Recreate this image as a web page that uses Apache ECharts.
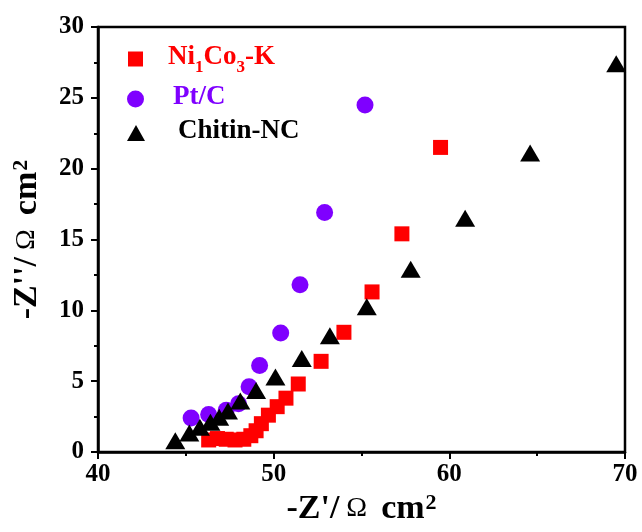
<!DOCTYPE html>
<html>
<head>
<meta charset="utf-8">
<script src="https://cdn.jsdelivr.net/npm/echarts@6/dist/echarts.min.js"></script>
<style>
html,body{margin:0;padding:0;background:#fff;}
#c{width:642px;height:532px;}
</style>
</head>
<body>
<div id="c"></div>
<script>
// Data
var niCoX = [46.3, 46.8, 47.3, 47.8, 48.3, 48.7, 49.0, 49.3, 49.7, 50.2, 50.7, 51.4, 52.7, 54.0, 55.6, 57.3, 59.5];
var niCoY = [0.85, 0.95, 0.9, 0.85, 0.9, 1.15, 1.5, 2.0, 2.6, 3.2, 3.8, 4.8, 6.4, 8.45, 11.3, 15.4, 21.5];
var ptcX = [45.3, 46.3, 47.3, 48.0, 48.6, 49.2, 50.4, 51.5, 52.9, 55.2];
var ptcY = [2.4, 2.65, 2.95, 3.4, 4.6, 6.1, 8.4, 11.8, 16.9, 24.5];
var chitinX = [44.4, 45.2, 45.8, 46.4, 46.9, 47.4, 48.1, 49.0, 50.1, 51.6, 53.2, 55.3, 57.8, 60.9, 64.6, 69.5];
var chitinY = [0.8, 1.35, 1.75, 2.1, 2.45, 2.9, 3.6, 4.35, 5.3, 6.6, 8.2, 10.25, 12.9, 16.5, 21.1, 27.4];
var seriesNames = ['Ni1Co3-K', 'Pt/C', 'Chitin-NC'];
var xTicks = [40, 50, 60, 70];
var yTicks = [0, 5, 10, 15, 20, 25, 30];

function pairs(xs, ys) { return xs.map(function (x, i) { return [x, ys[i]]; }); }

var FONT = "'Liberation Serif','Times New Roman',serif";
var chart = echarts.init(document.getElementById('c'), null, {renderer: 'canvas'});

var titleRich = {
  b: {fontFamily: FONT, fontWeight: 'bold', fontSize: 34, color: '#000', lineHeight: 38, verticalAlign: 'top'},
  o: {fontFamily: FONT, fontWeight: 'normal', fontSize: 28, color: '#000', lineHeight: 38, verticalAlign: 'top', padding: [3, 0, 0, 0]},
  s: {fontFamily: FONT, fontWeight: 'bold', fontSize: 22, color: '#000', lineHeight: 22, verticalAlign: 'top', padding: [0, 0, 0, 1]}
};

function legendCfg(name, icon, color, left, top, w, h, spacer, fmt) {
  return {
    show: true, orient: 'vertical', left: left, top: top,
    itemWidth: w, itemHeight: h, padding: 0,
    selectedMode: false,
    data: [{name: name, icon: icon, itemStyle: {color: color}}],
    formatter: fmt,
    textStyle: {
      color: color, fontFamily: FONT, fontWeight: 'bold', fontSize: 27,
      rich: {
        sp: {width: spacer},
        m: {color: color, fontFamily: FONT, fontWeight: 'bold', fontSize: 27, lineHeight: 30, verticalAlign: 'top'},
        sub: {color: color, fontFamily: FONT, fontWeight: 'bold', fontSize: 17, lineHeight: 17, verticalAlign: 'top', padding: [15, 0, 0, 0]}
      }
    }
  };
}

var option = {
  backgroundColor: '#fff',
  animation: false,
  grid: {left: 98, right: 17, top: 27, bottom: 80, show: true, borderColor: '#000', borderWidth: 2.5, backgroundColor: 'transparent'},
  legend: [
    legendCfg(seriesNames[0], 'rect', '#ff0000', 128, 44, 15, 15, 20, function () { return '{sp|}{m|Ni}{sub|1}{m|Co}{sub|3}{m|-K}'; }),
    legendCfg(seriesNames[1], 'circle', '#7f00ff', 127, 84, 17, 17, 24, function () { return '{sp|}{m|Pt/C}'; }),
    legendCfg(seriesNames[2], 'triangle', '#000000', 127, 118, 18, 16, 28, function () { return '{sp|}{m|Chitin-NC}'; })
  ],
  xAxis: {
    type: 'value', min: xTicks[0], max: xTicks[xTicks.length - 1], interval: 10,
    axisLine: {show: true, lineStyle: {color: '#000', width: 2.5}},
    axisTick: {show: true, inside: false, length: 7, lineStyle: {color: '#000', width: 2}},
    minorTick: {show: true, splitNumber: 2, length: 4, lineStyle: {color: '#000', width: 2}},
    splitLine: {show: false},
    axisLabel: {color: '#000', fontFamily: FONT, fontWeight: 'bold', fontSize: 25, margin: 10},
    name: '{b|-Z\'/}{o| Ω  }{b|cm}{s|2}',
    nameLocation: 'middle', nameGap: 35,
    nameTextStyle: {rich: titleRich}
  },
  yAxis: {
    type: 'value', min: yTicks[0], max: yTicks[yTicks.length - 1], interval: 5,
    axisLine: {show: true, lineStyle: {color: '#000', width: 2.5}},
    axisTick: {show: true, inside: false, length: 7, lineStyle: {color: '#000', width: 2}},
    minorTick: {show: true, splitNumber: 2, length: 4, lineStyle: {color: '#000', width: 2}},
    splitLine: {show: false},
    axisLabel: {color: '#000', fontFamily: FONT, fontWeight: 'bold', fontSize: 25, margin: 14},
    name: '{b|-Z\'\'/}{o| Ω  }{b|cm}{s|2}',
    nameLocation: 'middle', nameGap: 50, nameRotate: 90,
    nameTextStyle: {rich: titleRich}
  },
  series: [
    {name: seriesNames[1], type: 'scatter', symbol: 'circle', symbolSize: 17, itemStyle: {color: '#7f00ff', opacity: 1}, data: pairs(ptcX, ptcY), z: 2},
    {name: seriesNames[0], type: 'scatter', symbol: 'rect', symbolSize: 15, itemStyle: {color: '#ff0000', opacity: 1}, data: pairs(niCoX, niCoY), z: 3},
    {name: seriesNames[2], type: 'scatter', symbol: 'triangle', symbolSize: [20, 17], itemStyle: {color: '#000000', opacity: 1}, data: pairs(chitinX, chitinY), z: 4}
  ]
};
chart.setOption(option);
</script>
</body>
</html>
